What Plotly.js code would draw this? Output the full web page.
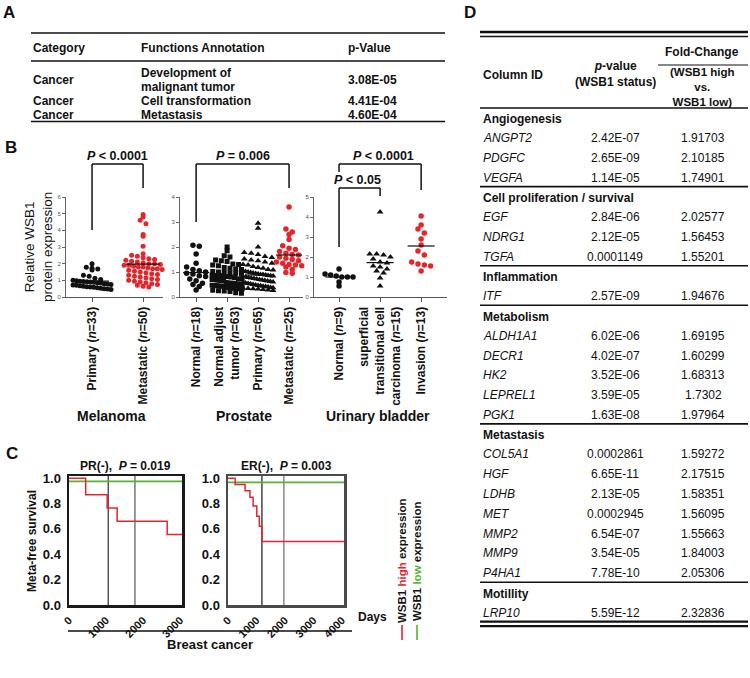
<!DOCTYPE html>
<html><head><meta charset="utf-8">
<script src="https://cdn.plot.ly/plotly-3.0.1.min.js"></script>
<style>html,body{margin:0;padding:0;background:#fff}#chart{width:750px;height:678px}</style>
</head><body><div id="chart"></div>
<script>
// ---------------- DATA ----------------
// Panel A
const aHeaders = ['Category', 'Functions Annotation', 'p-Value'];
const aCategory = ['Cancer', 'Cancer', 'Cancer'];
const aFunction = [['Development of', 'malignant tumor'], ['Cell transformation'], ['Metastasis']];
const aPValue = ['3.08E-05', '4.41E-04', '4.60E-04'];

// Panel B - Melanoma
const melCats = ['Primary (<i>n</i>=33)', 'Metastatic (<i>n</i>=50)'];
const melPrimary = [2.0, 1.78, 1.72, 1.68, 1.62, 1.3, 1.25, 1.12, 1.05, 1.0, 0.98, 0.95, 0.93, 0.92, 0.9, 0.88, 0.86, 0.84, 0.8, 0.78, 0.75, 0.72, 0.7, 0.68, 0.65, 0.62, 0.6, 0.58, 0.55, 0.53, 0.5, 0.48, 0.45];
const melMetastatic = [4.95, 4.8, 4.6, 4.4, 3.75, 3.65, 3.05, 2.6, 2.5, 2.45, 2.35, 2.3, 2.25, 2.2, 2.15, 2.1, 2.05, 2.0, 2.0, 1.95, 1.9, 1.9, 1.85, 1.8, 1.8, 1.75, 1.7, 1.7, 1.65, 1.6, 1.55, 1.5, 1.45, 1.4, 1.35, 1.3, 1.25, 1.2, 1.15, 1.1, 1.05, 1.0, 0.95, 0.9, 0.85, 0.8, 0.75, 0.7, 0.65, 0.6];
const melLines = [0.95, 1.97];

// Panel B - Prostate
const proCats = ['Normal (<i>n</i>=18)', 'Normal adjust<br>tumor (<i>n</i>=63)', 'Primary (<i>n</i>=65)', 'Metastatic (<i>n</i>=25)'];
const proNormal = [2.07, 2.03, 1.72, 1.35, 1.2, 1.1, 1.05, 1.0, 0.95, 0.92, 0.85, 0.82, 0.72, 0.65, 0.55, 0.5, 0.42, 0.28];
const proAdjust = [2.0, 1.85, 1.65, 1.6, 1.48, 1.45, 1.42, 1.32, 1.3, 1.28, 1.25, 1.18, 1.15, 1.12, 1.1, 1.02, 1.0, 0.98, 0.97, 0.95, 0.93, 0.88, 0.86, 0.85, 0.83, 0.82, 0.8, 0.78, 0.73, 0.72, 0.7, 0.7, 0.68, 0.67, 0.66, 0.65, 0.58, 0.56, 0.55, 0.55, 0.54, 0.52, 0.51, 0.5, 0.47, 0.46, 0.45, 0.44, 0.43, 0.42, 0.4, 0.37, 0.36, 0.35, 0.34, 0.33, 0.32, 0.27, 0.25, 0.24, 0.22, 0.17, 0.15];
const proPrimary = [2.95, 2.75, 2.0, 1.78, 1.75, 1.7, 1.62, 1.58, 1.52, 1.48, 1.45, 1.4, 1.35, 1.3, 1.28, 1.22, 1.18, 1.15, 1.1, 1.08, 1.05, 1.02, 1.0, 0.98, 0.96, 0.94, 0.92, 0.9, 0.9, 0.88, 0.86, 0.85, 0.84, 0.82, 0.8, 0.78, 0.76, 0.74, 0.72, 0.7, 0.68, 0.66, 0.64, 0.62, 0.6, 0.58, 0.56, 0.54, 0.52, 0.5, 0.48, 0.46, 0.45, 0.43, 0.42, 0.4, 0.38, 0.37, 0.35, 0.34, 0.33, 0.32, 0.3, 0.28, 0.26];
const proMetastatic = [3.6, 2.72, 2.6, 2.5, 2.3, 2.05, 1.95, 1.9, 1.82, 1.75, 1.7, 1.68, 1.6, 1.55, 1.5, 1.45, 1.4, 1.35, 1.3, 1.28, 1.25, 1.2, 1.1, 0.98, 0.95];
const proLines = [0.98, 0.75, 0.88, 1.68];

// Panel B - Urinary bladder
const blaCats = ['Normal (<i>n</i>=9)', 'superficial<br>transitional cell<br>carcinoma (<i>n</i>=15)', 'Invasion (<i>n</i>=13)'];
const blaNormal = [1.4, 1.15, 1.1, 1.05, 1.0, 1.0, 1.0, 0.75, 0.55];
const blaSuperficial = [4.25, 2.15, 2.15, 2.1, 2.0, 1.9, 1.75, 1.7, 1.55, 1.5, 1.4, 1.3, 1.2, 0.95, 0.55];
const blaInvasion = [4.05, 3.6, 3.4, 3.2, 2.9, 2.6, 2.3, 2.1, 1.75, 1.65, 1.6, 1.55, 1.3];
const blaLines = [1.0, 1.72, 2.55];

const groupLabels = ['Melanoma', 'Prostate', 'Urinary bladder'];
const pLabels = ['<i>P</i> &lt; 0.0001', '<i>P</i> = 0.006', '<i>P</i> &lt; 0.0001', '<i>P</i> &lt; 0.05'];

// Panel C - Kaplan-Meier
const kmTicksPR = [0, 1000, 2000, 3000];
const kmTicksER = [0, 1000, 2000, 3000, 4000];
const survTicks = [0, 0.2, 0.4, 0.6, 0.8, 1.0];
const prHighTime = [0, 450, 1030, 1300, 2650, 3050];
const prHighSurv = [1.0, 0.87, 0.765, 0.66, 0.555, 0.555];
const prLowTime = [0, 3050];
const prLowSurv = [0.975, 0.975];
const prMarks = [1060, 1780];
const erHighTime = [0, 250, 600, 770, 880, 1010, 1100, 1190, 4070];
const erHighSurv = [1.0, 0.95, 0.9, 0.85, 0.78, 0.7, 0.62, 0.5, 0.5];
const erLowTime = [0, 4070];
const erLowSurv = [0.967, 0.967];
const erMarks = [1190, 1960];
const kmTitles = ['PR(-),  <i>P</i> = 0.019', 'ER(-),  <i>P</i> = 0.003'];

// Panel D
const dGroupNames = ['Angiogenesis', 'Cell proliferation / survival', 'Inflammation', 'Metabolism', 'Metastasis', 'Motillity'];
const dGroupSizes = [3, 3, 1, 5, 7, 1];
const dGenes = ['ANGPT2', 'PDGFC', 'VEGFA', 'EGF', 'NDRG1', 'TGFA', 'ITF', 'ALDH1A1', 'DECR1', 'HK2', 'LEPREL1', 'PGK1', 'COL5A1', 'HGF', 'LDHB', 'MET', 'MMP2', 'MMP9', 'P4HA1', 'LRP10'];
const dPValues = ['2.42E-07', '2.65E-09', '1.14E-05', '2.84E-06', '2.12E-05', '0.0001149', '2.57E-09', '6.02E-06', '4.02E-07', '3.52E-06', '3.59E-05', '1.63E-08', '0.0002861', '6.65E-11', '2.13E-05', '0.0002945', '6.54E-07', '3.54E-05', '7.78E-10', '5.59E-12'];
const dFoldChanges = ['1.91703', '2.10185', '1.74901', '2.02577', '1.56453', '1.55201', '1.94676', '1.69195', '1.60299', '1.68313', '1.7302', '1.97964', '1.59272', '2.17515', '1.58351', '1.56095', '1.55663', '1.84003', '2.05306', '2.32836'];

// ---------------- HELPERS ----------------
const W = 750, H = 678;
const FONT = 'Liberation Sans, Arial, Helvetica, sans-serif';
const RED = '#e3262c', GREEN = '#55b331', BLACK = '#111111';
const px = x => x / W, py = y => 1 - y / H;
const annotations = [], shapes = [], traces = [], layout = {};

function txt(x, y, text, o) {
  o = o || {};
  annotations.push({
    xref: 'paper', yref: 'paper', x: px(x), y: py(y), text: text, showarrow: false,
    xanchor: o.anchor || 'left', yanchor: 'middle', textangle: o.angle || 0, align: o.align || 'left',
    borderpad: 0,
    font: {family: FONT, size: o.size || 12, color: o.color || BLACK, weight: o.weight || 'normal'}
  });
}
function seg(x0, y0, x1, y1, w, c) {
  shapes.push({type: 'line', xref: 'paper', yref: 'paper', x0: px(x0), y0: py(y0), x1: px(x1), y1: py(y1),
    line: {color: c || BLACK, width: w || 1}});
}
function axKey(id, t) { return t + 'axis' + id.slice(1); }
function mapX(p, v) { return p.xpx[0] + (v - p.xr[0]) / (p.xr[1] - p.xr[0]) * (p.xpx[1] - p.xpx[0]); }

// ---------------- PANEL A ----------------
txt(9, 13, 'A', {size: 17, weight: 'bold', anchor: 'center'});
const aColX = [32, 140, 347];
seg(31, 33, 445, 33, 1.6);
aHeaders.forEach((h, i) => txt(aColX[i], 48, h, {weight: 'bold'}));
seg(31, 61, 445, 61, 1.6);
const aRowY = [80, 101, 114.5];
aCategory.forEach((c, i) => {
  txt(aColX[0], aRowY[i], c, {weight: 'bold'});
  const lines = aFunction[i];
  lines.forEach((l, j) => txt(aColX[1], aRowY[i] + (j - (lines.length - 1) / 2) * 14, l, {weight: 'bold'}));
  txt(aColX[2], aRowY[i], aPValue[i], {weight: 'bold'});
});
seg(31, 121.5, 445, 121.5, 1.6);

// ---------------- PANEL B ----------------
txt(11, 147, 'B', {size: 17, weight: 'bold', anchor: 'center'});
const bPlots = [
  {id: '', xpx: [66, 163], ypx: [297, 197], xr: [-0.51, 1.39], yr: [0, 6], cats: melCats,
   series: [[melPrimary, 'circle', BLACK, 5], [melMetastatic, 'circle', RED, 5]], lines: melLines, half: 0.33, maxHalf: 19},
  {id: '2', xpx: [180, 303], ypx: [297, 197], xr: [-0.52, 3.45], yr: [0, 4], cats: proCats,
   series: [[proNormal, 'circle', BLACK, 5.5], [proAdjust, 'square', BLACK, 5], [proPrimary, 'triangle-up', BLACK, 6], [proMetastatic, 'circle', RED, 5.5]], lines: proLines, half: 0.42, maxHalf: 15},
  {id: '3', xpx: [314, 447], ypx: [297, 197], xr: [-0.61, 2.63], yr: [0, 5], cats: blaCats,
   series: [[blaNormal, 'circle', BLACK, 5.5], [blaSuperficial, 'triangle-up', BLACK, 6], [blaInvasion, 'circle', RED, 5.5]], lines: blaLines, half: 0.33, maxHalf: 14}
];

function swarm(vals, c, pxY, pxC, d, maxHalf) {
  const bin = d / pxY, groups = {};
  vals.forEach((v, i) => { const b = Math.round(v / bin); (groups[b] = groups[b] || []).push(i); });
  const xs = new Array(vals.length);
  Object.keys(groups).forEach(b => {
    const idx = groups[b], k = idx.length;
    const step = k > 1 ? Math.min(d * 1.15, 2 * maxHalf / (k - 1)) : 0;
    idx.forEach((i, j) => { xs[i] = c + (j - (k - 1) / 2) * step / pxC; });
  });
  return xs;
}

bPlots.forEach(p => {
  const xid = 'x' + p.id, yid = 'y' + p.id;
  layout[axKey(xid, 'x')] = {
    domain: [px(p.xpx[0]), px(p.xpx[1])], range: p.xr, anchor: yid,
    tickvals: p.cats.map((c, i) => i), ticktext: p.cats, tickangle: -90,
    ticks: 'outside', ticklen: 4, tickcolor: '#555', tickwidth: 1,
    showline: true, linecolor: '#555', linewidth: 1, showgrid: false, zeroline: false,
    tickfont: {family: FONT, size: 12, weight: 'bold', color: BLACK}
  };
  layout[axKey(yid, 'y')] = {
    domain: [py(p.ypx[0]), py(p.ypx[1])], range: p.yr, anchor: xid, dtick: 1,
    ticks: 'outside', ticklen: 3, tickcolor: '#666', tickwidth: 1,
    showline: true, linecolor: '#666', linewidth: 1, showgrid: false, zeroline: false,
    tickfont: {family: FONT, size: 6, color: '#555'}
  };
  const pxY = (p.ypx[0] - p.ypx[1]) / (p.yr[1] - p.yr[0]);
  const pxC = (p.xpx[1] - p.xpx[0]) / (p.xr[1] - p.xr[0]);
  p.series.forEach((s, i) => {
    traces.push({type: 'scatter', mode: 'markers', xaxis: xid, yaxis: yid, cliponaxis: false,
      x: swarm(s[0], i, pxY, pxC, s[3], p.maxHalf), y: s[0],
      marker: {symbol: s[1], color: s[2], size: s[3], line: {width: 0}}});
    traces.push({type: 'scatter', mode: 'lines', xaxis: xid, yaxis: yid, cliponaxis: false,
      x: [i - p.half, i + p.half], y: [p.lines[i], p.lines[i]], line: {color: BLACK, width: 1.2}});
  });
});

// Y title and group labels
txt(39, 247, 'Relative WSB1<br>protein expression', {angle: -90, anchor: 'center', size: 13.5, align: 'center'});
const groupLabelX = [111, 244, 378];
groupLabels.forEach((g, i) => txt(groupLabelX[i], 416, g, {size: 14, weight: 'bold', anchor: 'center'}));

// significance brackets
function bracket(p, c0, c1, top, b0, b1, label, labelY, dx) {
  const x0 = mapX(p, c0), x1 = mapX(p, c1);
  seg(x0, b0, x0, top, 1.5); seg(x0, top, x1, top, 1.5); seg(x1, top, x1, b1, 1.5);
  txt((x0 + x1) / 2 + (dx || 0), labelY, label, {size: 12.5, weight: 'bold', anchor: 'center'});
}
bracket(bPlots[0], 0, 1, 164, 230, 188, pLabels[0], 156);
bracket(bPlots[1], 0, 3, 164, 222, 188, pLabels[1], 156);
bracket(bPlots[2], 0, 2, 164, 172, 190, pLabels[2], 156, 3);
bracket(bPlots[2], 0, 1, 188, 247, 196, pLabels[3], 180, -2);

// ---------------- PANEL C ----------------
txt(12, 453, 'C', {size: 17, weight: 'bold', anchor: 'center'});
const kmPlots = [
  {id: '4', xpx: [69, 182], ypx: [605, 476], xr: [0, 3050], ticks: kmTicksPR, box: '#1a1a1a', marks: prMarks, markColors: ['#555', '#777'],
   high: [prHighTime, prHighSurv], low: [prLowTime, prLowSurv], title: kmTitles[0]},
  {id: '5', xpx: [228, 344], ypx: [605, 476], xr: [0, 4070], ticks: kmTicksER, box: '#4a4a4a', marks: erMarks, markColors: ['#444', '#888'],
   high: [erHighTime, erHighSurv], low: [erLowTime, erLowSurv], title: kmTitles[1]}
];
kmPlots.forEach(p => {
  const xid = 'x' + p.id, yid = 'y' + p.id;
  const yr = [0, 1.017];
  layout[axKey(xid, 'x')] = {
    domain: [px(p.xpx[0]), px(p.xpx[1])], range: p.xr, anchor: yid, tickvals: p.ticks, tickangle: -45,
    ticks: 'outside', ticklen: 2, tickcolor: 'rgba(0,0,0,0)', showline: true, mirror: true, linecolor: p.box, linewidth: 2.5,
    showgrid: false, zeroline: false, tickfont: {family: FONT, size: 11, weight: 'bold', color: BLACK}
  };
  layout[axKey(yid, 'y')] = {
    domain: [py(p.ypx[0]), py(p.ypx[1])], range: yr, anchor: xid, tickvals: survTicks, tickformat: '.1f',
    ticks: 'outside', ticklen: 3, tickcolor: 'rgba(0,0,0,0)', showline: true, mirror: true, linecolor: p.box, linewidth: 2.5,
    showgrid: false, zeroline: false, tickfont: {family: FONT, size: 13, weight: 'bold', color: BLACK}
  };
  p.marks.forEach((m, i) => traces.push({type: 'scatter', mode: 'lines', xaxis: xid, yaxis: yid,
    x: [m, m], y: yr, line: {color: p.markColors[i], width: 1.5}}));
  traces.push({type: 'scatter', mode: 'lines', xaxis: xid, yaxis: yid, x: p.low[0], y: p.low[1],
    line: {color: GREEN, width: 1.6, shape: 'hv'}});
  traces.push({type: 'scatter', mode: 'lines', xaxis: xid, yaxis: yid, x: p.high[0], y: p.high[1],
    line: {color: RED, width: 1.5, shape: 'hv'}});
  txt((p.xpx[0] + p.xpx[1]) / 2, 466, p.title, {size: 12, weight: 'bold', anchor: 'center'});
});
txt(32, 541, 'Meta-free survival', {angle: -90, anchor: 'center', size: 12, weight: 'bold'});
txt(372, 617, 'Days', {size: 12, weight: 'bold', anchor: 'center'});
seg(68, 631, 352, 631, 1.5);
txt(210, 644, 'Breast cancer', {size: 13, weight: 'bold', anchor: 'center'});
txt(402, 561, 'WSB1 <span style="color:' + RED + '">high</span> expression', {angle: -90, anchor: 'center', size: 11.5, weight: 'bold'});
txt(417, 561, 'WSB1 <span style="color:' + GREEN + '">low</span> expression', {angle: -90, anchor: 'center', size: 11.5, weight: 'bold'});
seg(402, 625, 402, 640, 1.6, RED);
seg(417, 625, 417, 640, 1.6, GREEN);

// ---------------- PANEL D ----------------
txt(470, 13, 'D', {size: 17, weight: 'bold', anchor: 'center'});
const dL = 480, dR = 748, dTextX = 482, dPX = 615, dFX = 703;
seg(dL, 32, dR, 32, 2.5); seg(dL, 36.5, dR, 36.5, 1.6);
txt(702, 52, 'Fold-Change', {weight: 'bold', anchor: 'center'});
seg(658, 65, dR, 65, 1.2);
txt(dTextX, 75, 'Column ID', {weight: 'bold'});
txt(dPX, 74, '<i>p</i>-value<br>(WSB1 status)', {weight: 'bold', anchor: 'center', align: 'center'});
txt(702, 86.5, '(WSB1 high<br>vs.<br>WSB1 low)', {weight: 'bold', anchor: 'center', align: 'center', size: 11.5});
seg(dL, 108, dR, 108, 1.6);
const dPitch = 19.8, dHeadGap = 19, dLineGap = 9, dNextGap = 11.5;
let gy = 119, gi = 0;
dGroupNames.forEach((g, k) => {
  txt(dTextX, gy, g, {weight: 'bold'});
  let ry = gy + dHeadGap;
  const n = dGroupSizes[k];
  for (let j = 0; j < n; j++) {
    const i = gi + j;
    txt(dTextX, ry, '<i>' + dGenes[i] + '</i>');
    txt(dPX, ry, dPValues[i], {anchor: 'center'});
    txt(dFX, ry, dFoldChanges[i], {anchor: 'center'});
    if (j < n - 1) ry += dPitch;
  }
  gi += n;
  const ly = ry + dLineGap;
  if (k < dGroupNames.length - 1) { seg(dL, ly, dR, ly, 1.6); }
  else { seg(dL, ly, dR, ly, 2.2); seg(dL, ly + 4.5, dR, ly + 4.5, 2.2); }
  gy = ly + dNextGap;
});

// ---------------- RENDER ----------------
Object.assign(layout, {
  width: W, height: H, margin: {l: 0, r: 0, t: 0, b: 0}, showlegend: false,
  paper_bgcolor: '#fff', plot_bgcolor: 'rgba(0,0,0,0)', font: {family: FONT, color: BLACK},
  annotations: annotations, shapes: shapes
});
Plotly.newPlot('chart', traces, layout, {staticPlot: true, displayModeBar: false});
</script></body></html>
